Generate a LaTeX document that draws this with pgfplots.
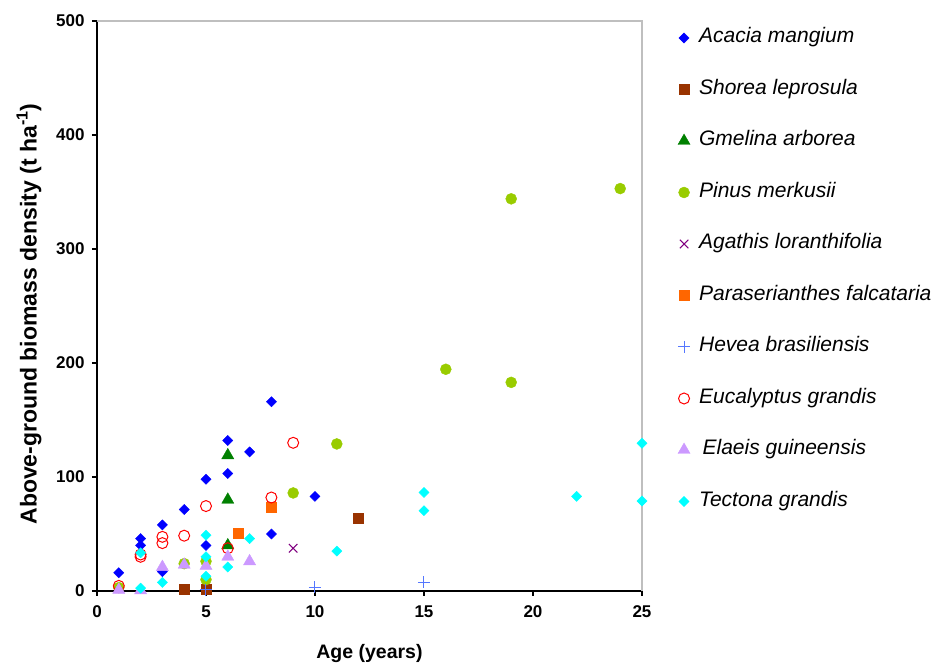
\documentclass[border=0pt]{standalone}
\usepackage{fontspec}
\setmainfont{Liberation Sans}
\usepackage{pgfplots}
\pgfplotsset{compat=1.18}
\definecolor{cAcacia}{HTML}{0000FF}
\definecolor{cShorea}{HTML}{993300}
\definecolor{cGmelina}{HTML}{008000}
\definecolor{cPinus}{HTML}{99CC00}
\definecolor{cAgathis}{HTML}{800080}
\definecolor{cPara}{HTML}{FF6600}
\definecolor{cHevea}{HTML}{5577FF}
\definecolor{cEuca}{HTML}{FF0000}
\definecolor{cElaeis}{HTML}{CC99FF}
\definecolor{cTectona}{HTML}{00FFFF}
\definecolor{boxgray}{HTML}{BFBFBF}
\begin{document}
\begin{tikzpicture}
\begin{axis}[
  at={(0pt,0pt)}, anchor=south west,
  scale only axis, width=545pt, height=570pt,
  xmin=0, xmax=25, ymin=0, ymax=500,
  xtick={0,5,...,25}, ytick={0,100,...,500},
  axis x line*=bottom, axis y line*=left,
  axis line style={-, black, line width=1.1pt},
  tick align=outside, major tick length=5pt,
  tick style={black, line width=1.1pt},
  minor tick num=0,
  clip=false,
  /pgf/number format/assume math mode=true,
  tick label style={font=\bfseries\fontsize{17}{20}\selectfont},
  xticklabel style={yshift=-6pt},
  yticklabel style={xshift=-4pt},
  xlabel={Age (years)},
  ylabel={Above-ground biomass density (t ha\textsuperscript{-1})},
  every axis x label/.style={at={(axis description cs:0.5,0)}, anchor=center, yshift=-63pt, font=\bfseries\fontsize{19.5}{23}\selectfont},
  every axis y label/.style={at={(axis description cs:0,0.5)}, anchor=center, rotate=90, yshift=68pt, xshift=-8pt, font=\bfseries\fontsize{23}{27}\selectfont},
  legend image code/.code={\draw[#1] plot coordinates {(0pt,0pt)};},
  legend style={at={(axis description cs:1,1)}, anchor=north west, xshift=36pt, yshift=-7pt,
     draw=none, fill=none, inner sep=0pt, outer sep=0pt,
     font=\itshape\fontsize{21}{25}\selectfont,
     nodes={inner sep=0pt, text height=15pt, text depth=5pt},
     row sep=31.5pt, column sep=9pt},
  legend cell align=left,
]
\addplot[only marks, mark=square*, mark size=3.6pt, mark options={rotate=45, draw=cAcacia, fill=cAcacia}] coordinates {
(1,16) (2,46) (2,40) (3,58) (3,17) (4,71.5) (5,98) (5,40) (6,132) (6,103) (7,122) (8,166) (8,50) (10,83)};
\addlegendentry{Acacia mangium}
\addplot[only marks, mark=square*, mark size=5pt, mark options={draw=cShorea, fill=cShorea}] coordinates {
(4,1.5) (5,1.5) (12,63.5)};
\addlegendentry{Shorea leprosula}
\addplot[only marks, mark=triangle*, mark size=7pt, mark options={draw=cGmelina, fill=cGmelina}] coordinates {
(6,119) (6,80) (6,40)};
\addlegendentry{Gmelina arborea}
\addplot[only marks, mark=*, mark size=5.5pt, mark options={draw=cPinus, fill=cPinus}] coordinates {
(1,3) (4,24) (5,26) (5,10) (9,86) (11,129) (16,194.5) (19,344) (19,183) (24,353)};
\addlegendentry{Pinus merkusii}
\addplot[only marks, mark=x, mark size=6pt, mark options={draw=cAgathis, line width=1pt}] coordinates {
(9,37.5)};
\addlegendentry{Agathis loranthifolia}
\addplot[only marks, mark=square*, mark size=5pt, mark options={draw=cPara, fill=cPara}] coordinates {
(6.5,50.5) (8,73.5)};
\addlegendentry{Paraserianthes falcataria}
\addplot[only marks, mark=+, mark size=6pt, mark options={draw=cHevea, line width=1pt}] coordinates {
(5,1) (10,3.5) (15,7.5)};
\addlegendentry{Hevea brasiliensis}
\addplot[only marks, mark=o, mark size=5.5pt, mark options={draw=cEuca, line width=1pt}] coordinates {
(1,4.5) (2,32) (2,30) (3,47.5) (3,42) (4,48.5) (5,74.5) (6,37.5) (8,82) (9,130)};
\addlegendentry{Eucalyptus grandis}
\addplot[only marks, mark=triangle*, mark size=7pt, mark options={draw=cElaeis, fill=cElaeis}] coordinates {
(1,1) (2,0.5) (3,21) (4,23) (5,22) (6,30) (7,26)};
\addlegendentry{\,Elaeis guineensis}
\addplot[only marks, mark=square*, mark size=3.6pt, mark options={rotate=45, draw=cTectona, fill=cTectona}] coordinates {
(2,2.5) (2,33.5) (3,7.5) (5,49) (5,30) (5,13) (6,21) (7,46) (11,35) (15,86.5) (15,70.5) (22,83) (25,129.5) (25,79)};
\addlegendentry{Tectona grandis}
\draw[boxgray, line width=2pt] (rel axis cs:0,1) -- (rel axis cs:1,1) -- (rel axis cs:1,0);
\end{axis}
\pgfresetboundingbox
\useasboundingbox (-97pt,-75pt) rectangle (841pt,591pt);
\end{tikzpicture}
\end{document}
